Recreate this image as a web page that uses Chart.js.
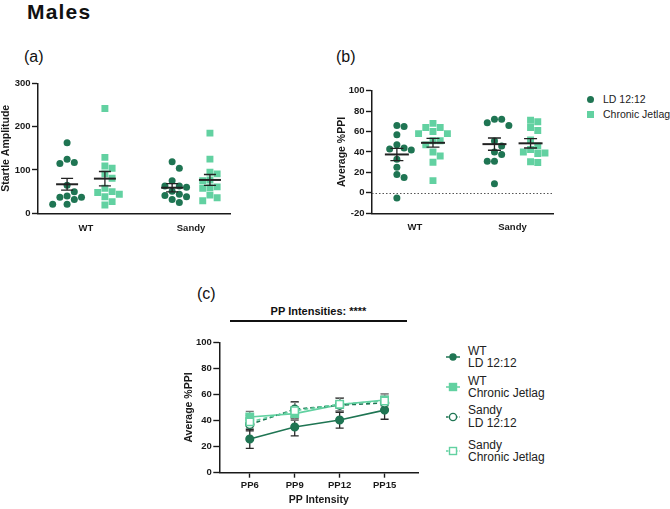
<!DOCTYPE html>
<html><head><meta charset="utf-8">
<script src="https://cdn.jsdelivr.net/npm/chart.js@4.4.0/dist/chart.umd.min.js"></script>
<style>
body{margin:0;width:670px;height:509px;background:#fff;position:relative;overflow:hidden;font-family:"Liberation Sans",Arial,sans-serif;color:#111}
.t{position:absolute;white-space:nowrap;line-height:1}
canvas{position:absolute}
.lg{position:absolute;font-size:10.5px;line-height:12.5px;white-space:nowrap;color:#222}
</style></head><body>
<div class="t" style="left:27px;top:1px;font-size:21px;font-weight:bold;letter-spacing:1.2px">Males</div>
<div class="t" style="left:24px;top:49px;font-size:16px">(a)</div>
<div class="t" style="left:336px;top:49px;font-size:16px">(b)</div>
<div class="t" style="left:197px;top:286px;font-size:16px">(c)</div>

<canvas id="ca" width="236" height="170" style="left:0;top:75px"></canvas>
<canvas id="cb" width="259" height="170" style="left:300px;top:75px"></canvas>
<canvas id="cc" width="275" height="179" style="left:150px;top:330px"></canvas>

<div id="legB"></div>
<div id="legC"></div>
<div class="t" id="ppTitle" style="left:230px;width:177px;text-align:center;top:306px;font-size:11px;font-weight:bold">PP Intensities: ****</div>
<div style="position:absolute;left:230px;top:320px;width:177px;height:2px;background:#111"></div>

<script>
// ---------- data ----------
const groups = ['WT', 'Sandy'];
const conditions = ['LD 12:12', 'Chronic Jetlag'];

// (a) Startle amplitude, individual animals
const startleWT_LD    = [163, 125, 115, 117, 65, 50, 37, 40, 37, 32, 21, 21];
const startleWT_CJ    = [242, 129, 104, 109, 81, 91, 48, 50, 58, 38, 44, 19, 27];
const startleSandy_LD = [119, 104, 75, 63, 63, 60, 51, 44, 41, 38, 32, 25];
const startleSandy_CJ = [185, 125, 91, 95, 75, 77, 58, 61, 59, 42, 29, 36];
// mean and SEM: WT LD, WT CJ, Sandy LD, Sandy CJ
const startleMean = [67, 80, 59, 77];
const startleSEM  = [13.5, 16.5, 9.5, 12.5];
const startleTicks = [0, 100, 200, 300];

// (b) Average %PPI, individual animals
const ppiWT_LD    = [66, 65, 57, 47, 44, 43, 42, 33, 25, 18, 15, -5];
const ppiWT_CJ    = [68, 64, 64, 60, 58, 58, 51, 51, 47, 40, 36, 30, 12];
const ppiSandy_LD = [68.6, 72, 72, 66, 50.7, 45.8, 40, 37.6, 31, 31, 9];
const ppiSandy_CJ = [69.6, 71, 61, 64, 51.7, 45.8, 39, 38.6, 40, 42.5, 29.8, 30.4];
const ppiMean = [37.6, 49, 47.7, 48.5];
const ppiSEM  = [6, 4.3, 6, 4.6];
const ppiTicks = [-20, 0, 20, 40, 60, 80, 100];

// (c) %PPI by prepulse intensity (mean, SEM)
const ppLabels = ['PP6', 'PP9', 'PP12', 'PP15'];
const curveWT_LD    = [25.8, 35, 40.4, 48];
const curveWT_LD_sem    = [7.2, 6.8, 6.2, 7];
const curveWT_CJ    = [42.7, 45.3, 52.2, 55.8];
const curveWT_CJ_sem    = [4.3, 5.2, 4.8, 4.6];
const curveSandy_LD = [37, 48.6, 51.8, 53.5];
const curveSandy_LD_sem = [5, 5.8, 5.5, 5];
const curveSandy_CJ = [39, 47.5, 52.5, 55];
const curveSandy_CJ_sem = [5, 6.5, 5, 5.5];
const curveTicks = [0, 20, 40, 60, 80, 100];

// ---------- style ----------
const DARK = '#1f7553';
const LIGHT = '#62d1a1';
const FONT = '"Liberation Sans", Arial, sans-serif';
const INK = '#1a1a1a';

// beeswarm layout (pixel offsets) so dots do not overlap
function swarm(vals, pxPerUnit, diam) {
  const order = vals.map((v, i) => i).sort((a, b) => vals[b] - vals[a]);
  const placed = [];
  const off = new Array(vals.length).fill(0);
  order.forEach(i => {
    const py = vals[i] * pxPerUnit;
    for (let k = 0; k < 30; k++) {
      const c = k === 0 ? 0 : (k % 2 ? 1 : -1) * Math.ceil(k / 2) * diam;
      if (placed.every(p => Math.hypot(p.x - c, p.y - py) >= diam * 0.98)) {
        off[i] = c; placed.push({x: c, y: py}); break;
      }
    }
  });
  return off;
}

function dotPoints(vals, center, pxY, pxX, diam) {
  const off = swarm(vals, pxY, diam);
  return vals.map((v, i) => ({x: center + off[i] / pxX, y: v}));
}

function meanSemPlugin(id, centers, means, sems, halfW, capW) {
  return {
    id,
    afterDatasetsDraw(chart) {
      const {ctx, scales: {x, y}} = chart;
      ctx.save();
      ctx.strokeStyle = '#222';
      centers.forEach((c, i) => {
        const cx = x.getPixelForValue(c);
        const ym = y.getPixelForValue(means[i]);
        const yt = y.getPixelForValue(means[i] + sems[i]);
        const yb = y.getPixelForValue(means[i] - sems[i]);
        ctx.lineWidth = 1.3;
        ctx.beginPath();
        ctx.moveTo(cx, yt); ctx.lineTo(cx, yb);
        ctx.moveTo(cx - capW, yt); ctx.lineTo(cx + capW, yt);
        ctx.moveTo(cx - capW, yb); ctx.lineTo(cx + capW, yb);
        ctx.stroke();
        ctx.lineWidth = 2;
        ctx.beginPath();
        ctx.moveTo(cx - halfW, ym); ctx.lineTo(cx + halfW, ym);
        ctx.stroke();
      });
      ctx.restore();
    }
  };
}

function yAxis(min, max, ticks, title, width, titlePad, tickLen) {
  return {
    type: 'linear', min, max,
    afterBuildTicks: s => { s.ticks = ticks.map(v => ({value: v})); },
    afterFit: s => { s.width = width; },
    grid: {drawOnChartArea: false, drawTicks: true, tickLength: tickLen, tickColor: INK, tickWidth: 1.4},
    border: {color: INK, width: 1.5},
    ticks: {color: INK, padding: 1.5, font: {family: FONT, size: 9.5, weight: 'bold'}},
    title: {display: true, text: title, color: INK, padding: {top: titlePad, bottom: 0}, font: {family: FONT, size: 10.5, weight: 'bold'}}
  };
}

function xGroupAxis(min, max, labels, height, pad) {
  return {
    type: 'linear', min, max,
    afterBuildTicks: s => { s.ticks = labels.map((l, i) => ({value: i})); },
    afterFit: s => { s.height = height; },
    grid: {display: false},
    border: {color: INK, width: 1.5},
    ticks: {color: INK, padding: pad, autoSkip: false, maxRotation: 0,
      font: {family: FONT, size: 9.5, weight: 'bold'},
      callback: v => labels[v]}
  };
}

const baseOpts = {responsive: false, animation: false, devicePixelRatio: 1,
  plugins: {legend: {display: false}, tooltip: {enabled: false}}};

// ---------- (a) ----------
(function () {
  const pxY = 130 / 300, pxX = 105, off = 0.18, d = 7.2;
  const centers = [0 - off, 0 + off, 1 - off, 1 + off];
  new Chart(document.getElementById('ca'), {
    type: 'scatter',
    data: {datasets: [
      {label: conditions[0], data: dotPoints(startleWT_LD, centers[0], pxY, pxX, d).concat(dotPoints(startleSandy_LD, centers[2], pxY, pxX, d)),
        pointStyle: 'circle', pointRadius: 3.5, backgroundColor: DARK, borderColor: DARK, borderWidth: 0},
      {label: conditions[1], data: dotPoints(startleWT_CJ, centers[1], pxY, pxX, d).concat(dotPoints(startleSandy_CJ, centers[3], pxY, pxX, d)),
        pointStyle: 'rect', pointRadius: 4.9, backgroundColor: LIGHT, borderColor: LIGHT, borderWidth: 0}
    ]},
    options: Object.assign({}, baseOpts, {
      layout: {padding: {top: 8.3, right: 6, left: 0, bottom: 0}},
      scales: {
        x: xGroupAxis(-0.457, 1.371, groups, 31.7, 1),
        y: yAxis(0, 300, startleTicks, 'Startle Amplitude', 38, 0, 6)
      }
    }),
    plugins: [meanSemPlugin('msA', centers, startleMean, startleSEM, 11, 6)]
  });
})();

// ---------- (b) ----------
(function () {
  const pxY = 122.6 / 120, pxX = 97.5, off = 0.185, d = 7.2;
  const centers = [0 - off, 0 + off, 1 - off, 1 + off];
  const zeroLine = {
    id: 'zero',
    beforeDatasetsDraw(chart) {
      const {ctx, chartArea, scales: {y}} = chart;
      const py = Math.round(y.getPixelForValue(0)) + 0.5;
      ctx.save();
      ctx.strokeStyle = '#555'; ctx.lineWidth = 1; ctx.setLineDash([1.5, 2]);
      ctx.beginPath(); ctx.moveTo(chartArea.left, py); ctx.lineTo(chartArea.right, py); ctx.stroke();
      ctx.restore();
    }
  };
  new Chart(document.getElementById('cb'), {
    type: 'scatter',
    data: {datasets: [
      {label: conditions[0], data: dotPoints(ppiWT_LD, centers[0], pxY, pxX, d).concat(dotPoints(ppiSandy_LD, centers[2], pxY, pxX, d)),
        pointStyle: 'circle', pointRadius: 3.5, backgroundColor: DARK, borderColor: DARK, borderWidth: 0},
      {label: conditions[1], data: dotPoints(ppiWT_CJ, centers[1], pxY, pxX, d).concat(dotPoints(ppiSandy_CJ, centers[3], pxY, pxX, d)),
        pointStyle: 'rect', pointRadius: 4.9, backgroundColor: LIGHT, borderColor: LIGHT, borderWidth: 0}
    ]},
    options: Object.assign({}, baseOpts, {
      layout: {padding: {top: 15.7, right: 6, left: 0, bottom: 0}},
      scales: {
        x: xGroupAxis(-0.44, 1.415, groups, 31.7, 0),
        y: yAxis(-20, 100, ppiTicks, 'Average %PPI', 72, 35.4, 6)
      }
    }),
    plugins: [zeroLine, meanSemPlugin('msB', centers, ppiMean, ppiSEM, 12, 6.5)]
  });
  // legend (b)
  const leg = document.getElementById('legB');
  leg.innerHTML =
    `<div style="position:absolute;left:586.5px;top:95.8px;width:7px;height:7px;border-radius:50%;background:${DARK}"></div>` +
    `<div class="lg" style="left:603px;top:93px">${conditions[0]}</div>` +
    `<div style="position:absolute;left:586.5px;top:110.5px;width:7px;height:7px;background:${LIGHT}"></div>` +
    `<div class="lg" style="left:603px;top:108px">${conditions[1]}</div>`;
})();

// ---------- (c) ----------
(function () {
  const series = [
    {name: ['WT', conditions[0]], vals: curveWT_LD, sem: curveWT_LD_sem, color: DARK, style: 'circle', r: 3.8, fill: DARK, dash: [], ebar: '#2a2a2a'},
    {name: ['WT', conditions[1]], vals: curveWT_CJ, sem: curveWT_CJ_sem, color: LIGHT, style: 'rect', r: 5.2, fill: LIGHT, dash: [], ebar: '#777'},
    {name: ['Sandy', conditions[0]], vals: curveSandy_LD, sem: curveSandy_LD_sem, color: DARK, style: 'circle', r: 4, fill: '#fff', dash: [4, 3], ebar: '#2a2a2a'},
    {name: ['Sandy', conditions[1]], vals: curveSandy_CJ, sem: curveSandy_CJ_sem, color: LIGHT, style: 'rect', r: 5.2, fill: '#fff', dash: [4, 3], ebar: '#888'}
  ];
  const errPlugin = {
    id: 'err',
    beforeDatasetsDraw(chart) {
      const {ctx, scales: {x, y}} = chart;
      ctx.save();
      series.forEach(s => {
        ctx.strokeStyle = s.ebar; ctx.lineWidth = 1.3;
        s.vals.forEach((v, i) => {
          const cx = x.getPixelForValue(i);
          const yt = y.getPixelForValue(v + s.sem[i]);
          const yb = y.getPixelForValue(v - s.sem[i]);
          ctx.beginPath();
          ctx.moveTo(cx, yt); ctx.lineTo(cx, yb);
          ctx.moveTo(cx - 4, yt); ctx.lineTo(cx + 4, yt);
          ctx.moveTo(cx - 4, yb); ctx.lineTo(cx + 4, yb);
          ctx.stroke();
        });
      });
      ctx.restore();
    }
  };
  new Chart(document.getElementById('cc'), {
    type: 'line',
    data: {datasets: series.map(s => ({
      label: s.name.join(' '),
      data: s.vals.map((v, i) => ({x: i, y: v})),
      borderColor: s.color, borderWidth: 1.6, borderDash: s.dash, tension: 0,
      pointStyle: s.style, pointRadius: s.r, pointBackgroundColor: s.fill,
      pointBorderColor: s.color, pointBorderWidth: 1.5, fill: false
    })).reverse()},
    options: Object.assign({}, baseOpts, {
      layout: {padding: {top: 12.3, right: 5, left: 0, bottom: 0}},
      scales: {
        x: {
          type: 'linear', min: -0.678, max: 3.75,
          afterBuildTicks: s => { s.ticks = ppLabels.map((l, i) => ({value: i})); },
          afterFit: s => { s.height = 36.3; },
          grid: {drawOnChartArea: false, drawTicks: true, tickLength: 5, tickColor: INK, tickWidth: 1.4},
          border: {color: INK, width: 1.5},
          ticks: {color: INK, padding: 1.5, autoSkip: false, maxRotation: 0,
            font: {family: FONT, size: 9.5, weight: 'bold'}, callback: v => ppLabels[v]},
          title: {display: true, text: 'PP Intensity', color: INK, padding: {top: 0, bottom: 2.7},
            font: {family: FONT, size: 10.5, weight: 'bold'}}
        },
        y: yAxis(0, 100, curveTicks, 'Average %PPI', 69.3, 32.7, 6)
      }
    }),
    plugins: [errPlugin]
  });
  // legend (c)
  const centersY = [357, 387, 416.5, 451];
  let html = '';
  series.forEach((s, k) => {
    const cy = centersY[k];
    const dash = s.dash.length ? 'stroke-dasharray="2.5,2"' : '';
    const mk = s.style === 'circle'
      ? `<circle cx="9" cy="6" r="${s.fill === '#fff' ? 3.6 : 3}" fill="${s.fill}" stroke="${s.color}" stroke-width="1.4"/>`
      : `<rect x="5.5" y="2.5" width="7" height="7" fill="${s.fill}" stroke="${s.color}" stroke-width="1.4"/>`;
    html += `<svg style="position:absolute;left:444px;top:${cy - 6}px" width="18" height="12"><line x1="2" y1="6" x2="16" y2="6" stroke="${s.color}" stroke-width="1.5" ${dash}/>${mk}</svg>`;
    html += `<div class="lg" style="left:468px;top:${cy - 12.5}px;font-size:12px">${s.name[0]}<br>${s.name[1]}</div>`;
  });
  document.getElementById('legC').innerHTML = html;
})();
</script>
</body></html>
